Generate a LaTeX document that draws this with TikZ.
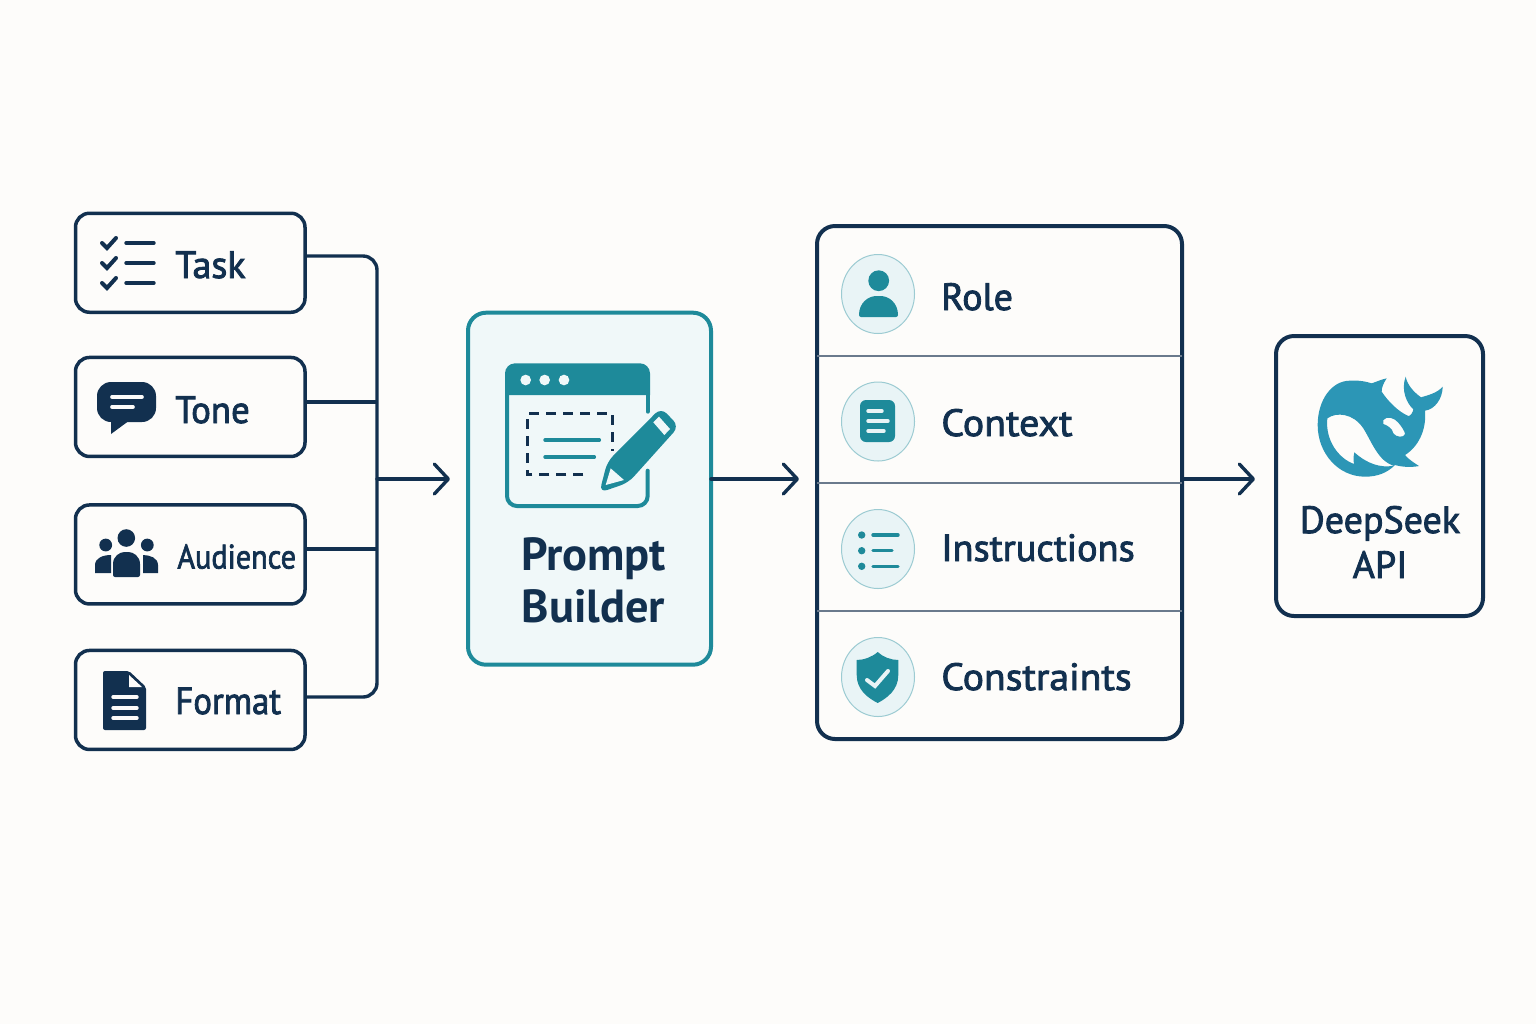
\documentclass[tikz,border=0pt]{standalone}
\usepackage{fontspec}
\setmainfont{PT Sans}[BoldFont={PT Sans Bold},BoldFeatures={}]
\newfontfamily\medfont{PT Sans}[FakeBold=2.2]
\newcommand{\narrowed}[2]{\scalebox{#1}[1]{#2}}
\usetikzlibrary{arrows.meta}
\usetikzlibrary{shapes.geometric}
\definecolor{navy}{HTML}{12304F}
\definecolor{teal}{HTML}{1E8A9A}
\definecolor{whaleblue}{HTML}{2C96B6}
\definecolor{paper}{HTML}{FDFCFA}
\definecolor{panel}{HTML}{F0F8F9}
\definecolor{ringfill}{HTML}{E9F4F6}
\definecolor{ringline}{HTML}{9CCBD2}
\definecolor{rulegray}{HTML}{6A7A8C}

\begin{document}
\begin{tikzpicture}[x=0.5pt,y=-0.5pt,node distance=73pt]
  \tikzstyle{inbox}=[rectangle,draw=navy,line width=1.75pt,rounded corners=7pt,outer sep=0pt,inner sep=0pt,minimum width=114.75pt,minimum height=49.5pt]
  \tikzstyle{tallbox}=[inbox,line width=2pt,rounded corners=9pt]
  \tikzstyle{wire}=[draw=navy,line width=1.7pt]
  \tikzstyle{flow}=[wire,-{Straight Barb[length=7pt,width=15pt,line width=1.7pt,round]},line cap=round]
  \tikzstyle{word}=[anchor=base west,inner sep=0pt,text=navy,font=\medfont\fontsize{19}{19}\selectfont]
  \tikzstyle{bigword}=[anchor=center,align=center,inner sep=0pt,text=navy,font=\bfseries\fontsize{23}{26}\selectfont]
  \tikzstyle{ring}=[ellipse,draw=ringline,fill=ringfill,line width=0.5pt,inner sep=0pt,minimum width=36.5pt,minimum height=39.5pt]
  \tikzstyle{navystroke}=[draw=navy,line width=1.7pt,line cap=round]
  \tikzstyle{whitestroke}=[draw=paper,line width=1.8pt,line cap=round]
  \tikzstyle{tealstroke}=[draw=teal,line width=1.7pt,line cap=round]

  \fill[paper] (0,0) rectangle (1536,1024);

  % left column
  \node[inbox] at (190.25,262.75) (taskbox) {};
  \node[inbox,node distance=72.1pt] (tonebox) [below of=taskbox] {};
  \node[inbox,node distance=73.75pt] (audiencebox) [below of=tonebox] {};
  \node[inbox,node distance=72.75pt] (formatbox) [below of=audiencebox] {};

  \node[word] at (175,278) (tasklabel) {Task};
  \node[word] at (175,423) (tonelabel) {\narrowed{0.97}{Tone}};
  \node[word,font=\medfont\fontsize{17}{17}\selectfont] at (177,568.5) (audiencelabel) {\narrowed{0.89}{Audience}};
  \node[word] at (175,714) (formatlabel) {\narrowed{0.915}{Format}};

  % wires
  \coordinate (bustop) at (377,256);
  \coordinate (bus) at (377,479);
  \coordinate (busbottom) at (377,697);
  \coordinate (busend) at (450,479);
  \coordinate (promptend) at (799,479);
  \coordinate (stackend) at (1255,479);
  \draw[wire,rounded corners=7pt] (taskbox.east |- bustop) -- (bustop) -- (busbottom) -- (formatbox.east |- busbottom);
  \draw[wire] (tonebox.east |- 0,402) -- (377,402);
  \draw[wire] (audiencebox.east |- 0,549) -- (377,549);
  \draw[flow] (bus) -- (busend);

  % builder
  \node[tallbox,draw=teal,fill=panel,minimum width=121.5pt,minimum height=176pt] at (589.5,488.7) (promptbox) {};
  \node[bigword,font=\bfseries\fontsize{23.2}{26}\selectfont] at (593.5,580) (promptlabel) {Prompt\\Builder};
  \draw[flow] (bus -| promptbox.east) -- (promptend);

  % stack
  \node[tallbox,minimum width=182.5pt,minimum height=256.5pt] at (999.5,482.5) (stackbox) {};
  \foreach \y in {356,483,611} \draw[draw=rulegray,line width=0.6pt] (stackbox.west |- 0,\y) -- (stackbox.east |- 0,\y);
  \draw[flow] (bus -| stackbox.east) -- (stackend);

  \node[ring] at (878,294) (rolering) {};
  \node[ring] at (878,421.5) (contextring) {};
  \node[ring] at (878,549) (instructionring) {};
  \node[ring] at (878,677) (constraintring) {};

  \node[word] at (941,310) (rolelabel) {Role};
  \node[word] at (941,436) (contextlabel) {\narrowed{1.05}{Context}};
  \node[word] at (941,561) (instructionlabel) {\narrowed{1.01}{Instructions}};
  \node[word] at (941,690) (constraintlabel) {\narrowed{1.045}{Constraints}};

  % api
  \node[tallbox,minimum width=103.5pt,minimum height=140pt] at (1379.5,476) (apibox) {};
  \node[bigword,font=\medfont\fontsize{19}{22.5}\selectfont] at (1380,542) (apilabel) {DeepSeek\\API};

  % task icon
  \foreach \y in {243,263,283} {
    \draw[navystroke] (126,\y) -- (154,\y);
    \draw[navystroke,line width=2pt] (102,\y) -- (107,\y+5) -- (116,\y-5);
  }

  % tone icon
  \fill[navy,rounded corners=7pt] (97,382) rectangle (156,422);
  \fill[navy] (111,418) -- (111,434) -- (130,420) -- cycle;
  \draw[whitestroke] (112,397) -- (142,397);
  \draw[whitestroke] (112,407) -- (133,407);

  % audience icon
  \fill[navy] (105.7,545) circle (6.4);
  \fill[navy] (147.3,545) circle (6.4);
  \fill[navy] (126.3,538) circle (8.8);
  \fill[navy] (95,573) -- (95,565) .. controls (95,558) and (103,555) .. (111,555) -- (111,573) -- cycle;
  \fill[navy] (158,573) -- (158,565) .. controls (158,558) and (150,555) .. (143,555) -- (143,573) -- cycle;
  \fill[navy,rounded corners=1pt] (113,577) -- (113,566) .. controls (113,556) and (120,552) .. (126.5,552) .. controls (133,552) and (140,556) .. (140,566) -- (140,577) -- cycle;

  % format icon
  \fill[navy,rounded corners=1pt] (103,671) -- (129,671) -- (146,687) -- (146,730) -- (103,730) -- cycle;
  \fill[paper] (129,675) -- (142,687) -- (129,687) -- cycle;
  \foreach \y in {697,708,718} \draw[whitestroke,line width=1.7pt] (113,\y) -- (137,\y);

  % prompt icon
  \begin{scope}[shift={(460,305)},x=0.16667pt,y=-0.16667pt]
    \draw[teal,line width=2pt,line cap=round] (563,320) -- (563,270);
    \draw[teal,line width=2pt,line cap=round,rounded corners=5pt] (563,497) -- (563,603) -- (141,603) -- (141,270);
    \fill[teal] (135,270) [rounded corners=5pt] -- (135,175) -- (570,175) [sharp corners] -- (570,270) -- cycle;
    \foreach \x in {197,254,312} \fill[panel] (\x,225) circle (16);
    \draw[navy,line width=1.5pt,dash pattern=on 5pt off 3.5pt] (370,509) -- (202,509) -- (202,326) -- (458,326) -- (458,438);
    \draw[tealstroke] (255,405) -- (418,405);
    \draw[tealstroke] (255,456) -- (403,456);
    \fill[teal,rounded corners=4pt] (603,308) -- (657,364) -- (505,533) -- (418,563) -- (442,470) -- cycle;
    \fill[panel] (452,490) -- (437,540) -- (492,525) -- cycle;
    \fill[panel] (597,335) -- (630,372) -- (613,390) -- (580,352) -- cycle;
  \end{scope}

  % role icon
  \fill[teal] (878.7,280.7) circle (10.4);
  \fill[teal,rounded corners=1pt] (859,317) .. controls (859,303) and (868,296) .. (878.5,296) .. controls (889,296) and (898,303) .. (898,317) -- cycle;

  % context icon
  \fill[teal,rounded corners=3pt] (860,400) rectangle (895,442);
  \foreach \y/\e in {411/882,421/888,431/884} \draw[draw=ringfill,line width=1.7pt,line cap=round] (868,\y) -- (\e,\y);

  % instructions icon
  \foreach \y/\e in {535/898,550.7/892,566.3/898} {
    \fill[teal] (861.7,\y) circle (3.7);
    \draw[tealstroke] (873,\y) -- (\e,\y);
  }

  % constraints icon
  \fill[teal] (877.7,652) .. controls (883,657) and (891,660) .. (898.3,660) -- (898.3,675) .. controls (898.3,690) and (887,698) .. (877.7,703) .. controls (868,698) and (856.7,690) .. (856.7,675) -- (856.7,660) .. controls (864,660) and (872,657) .. (877.7,652) -- cycle;
  \draw[draw=ringfill,line width=2pt,line cap=round] (867,680) -- (875,686) -- (888,671);

  % whale
  \begin{scope}[shift={(1270,330)},x=0.16667pt,y=-0.16667pt]
    \fill[whaleblue,even odd rule] (240,152) .. controls (265,150) and (290,155) .. (305,160)
      .. controls (320,155) and (335,148) .. (350,145)
      .. controls (340,160) and (335,172) .. (335,185)
      .. controls (355,215) and (385,245) .. (415,258)
      .. controls (422,258) and (428,248) .. (430,238)
      .. controls (410,220) and (392,180) .. (407,140)
      .. controls (412,165) and (430,185) .. (453,202)
      .. controls (475,195) and (500,190) .. (518,170)
      .. controls (518,205) and (495,238) .. (465,242)
      .. controls (470,300) and (445,350) .. (405,375)
      .. controls (418,390) and (432,398) .. (447,408)
      .. controls (425,412) and (400,412) .. (375,405)
      .. controls (350,430) and (320,440) .. (285,440)
      .. controls (205,440) and (143,370) .. (143,285)
      .. controls (143,210) and (185,152) .. (240,152) -- cycle
      (172,265) .. controls (200,245) and (250,250) .. (280,295)
      .. controls (305,335) and (325,395) .. (372,407)
      .. controls (330,415) and (290,400) .. (253,367)
      .. controls (250,380) and (250,390) .. (252,402)
      .. controls (205,385) and (165,330) .. (172,265) -- cycle
      (340,270) .. controls (350,258) and (372,262) .. (385,278)
      .. controls (395,290) and (405,305) .. (405,312)
      .. controls (402,324) and (378,322) .. (370,310)
      .. controls (368,295) and (350,285) .. (340,282) -- cycle;
  \end{scope}
\end{tikzpicture}
\end{document}
